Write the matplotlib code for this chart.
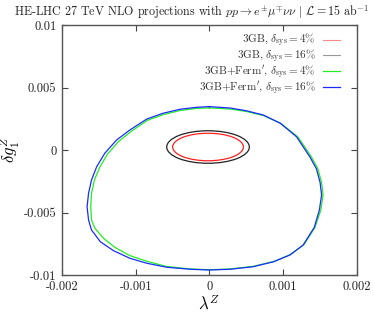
import matplotlib
matplotlib.use("Agg")
import matplotlib.pyplot as plt
from matplotlib.patches import Ellipse
from matplotlib.lines import Line2D

plt.rcParams["font.family"] = ["cmr10", "DejaVu Serif"]
plt.rcParams["mathtext.fontset"] = "cm"
plt.rcParams["axes.unicode_minus"] = False

# 3GB ellipses: centre (lambda, dg1), full width, full height
ell_center = (-0.00002, 0.00024)
ell_4_width, ell_4_height = 0.00096, 0.0022
ell_16_width, ell_16_height = 0.00112, 0.0026

# 3GB+Ferm' contours (closed loops, clockwise from top)
ferm16_lam = [0.0, 0.00028, 0.00050, 0.00073, 0.00096, 0.00118, 0.00136, 0.00145, 0.00150,
              0.00152, 0.00149, 0.00142, 0.00127, 0.00109, 0.00087, 0.00059, 0.00028, 0.0,
              -0.00026, -0.00058, -0.00085, -0.00108, -0.00130, -0.00148, -0.00160,
              -0.00164, -0.00166, -0.00164, -0.00160, -0.00153, -0.00142, -0.00126,
              -0.00108, -0.00085, -0.00063, -0.00040, -0.00017, 0.0]
ferm16_dg = [0.00347, 0.00336, 0.00314, 0.00280, 0.00214, 0.00106, -0.00054, -0.00150,
             -0.00260, -0.00360, -0.00480, -0.00620, -0.00760, -0.00840, -0.00894, -0.00934,
             -0.00954, -0.00960, -0.00954, -0.00938, -0.00906, -0.00866, -0.00806, -0.00734,
             -0.00640, -0.00560, -0.00454, -0.00346, -0.00240, -0.00134, -0.00026, 0.00080,
             0.00160, 0.00248, 0.00294, 0.00326, 0.00342, 0.00347]

ferm4_lam = [0.0, 0.00028, 0.00050, 0.00073, 0.00097, 0.00120, 0.00138, 0.00147, 0.00152,
             0.00154, 0.00151, 0.00143, 0.00128, 0.00110, 0.00088, 0.00060, 0.00028, 0.0,
             -0.00026, -0.00058, -0.00085, -0.00108, -0.00128, -0.00143, -0.00155,
             -0.00160, -0.00161, -0.00160, -0.00156, -0.00149, -0.00138, -0.00123,
             -0.00106, -0.00084, -0.00062, -0.00040, -0.00017, 0.0]
ferm4_dg = [0.00337, 0.00328, 0.00308, 0.00276, 0.00212, 0.00104, -0.00054, -0.00150,
            -0.00260, -0.00360, -0.00480, -0.00620, -0.00758, -0.00836, -0.00890, -0.00930,
            -0.00952, -0.00958, -0.00952, -0.00932, -0.00890, -0.00845, -0.00780, -0.00710,
            -0.00630, -0.00560, -0.00454, -0.00346, -0.00240, -0.00140, -0.00030, 0.00070,
            0.00150, 0.00238, 0.00284, 0.00316, 0.00333, 0.00337]

xticks = [-0.002, -0.001, 0, 0.001, 0.002]
xtick_labels = ["-0.002", "-0.001", "0", "0.001", "0.002"]
yticks = [-0.01, -0.005, 0, 0.005, 0.01]
ytick_labels = ["-0.01", "-0.005", "0", "0.005", "0.01"]

fig = plt.figure(figsize=(3.74, 3.13), dpi=100)
ax = fig.add_axes([0.1658, 0.1214, 0.7887, 0.7987])

ax.add_patch(Ellipse(ell_center, ell_16_width, ell_16_height, fill=False, color="#222222", lw=0.9))
ax.add_patch(Ellipse(ell_center, ell_4_width, ell_4_height, fill=False, color="#ff2020", lw=0.9))
ax.plot(ferm4_lam, ferm4_dg, color="#22ee22", lw=0.9, solid_joinstyle="round")
ax.plot(ferm16_lam, ferm16_dg, color="#1a2bff", lw=0.9, solid_joinstyle="round")

ax.set_xlim(-0.002, 0.002)
ax.set_ylim(-0.01, 0.01)
ax.set_xticks(xticks)
ax.set_xticklabels(xtick_labels)
ax.set_yticks(yticks)
ax.set_yticklabels(ytick_labels)
ax.tick_params(direction="in", top=True, right=True, length=4, width=0.8,
               labelsize=9, color="#444444", labelcolor="#222222", pad=4)
for s in ax.spines.values():
    s.set_color("#555555")
    s.set_linewidth(1.0)

ax.set_xlabel(r"$\lambda^Z$", fontsize=12, labelpad=1)
ax.set_ylabel(r"$\delta g_1^Z$", fontsize=12, labelpad=1)

fig.suptitle(r"HE-LHC 27 TeV NLO projections with $pp \to e^{\pm}\mu^{\mp}\nu\nu$ $|$ $\mathcal{L} = 15$ ab$^{-1}$",
             fontsize=8.65, x=0.512, y=0.99, color="#222222")

handles = [
    Line2D([], [], color="#ff8888", lw=0.8),
    Line2D([], [], color="#999999", lw=0.8),
    Line2D([], [], color="#22ee22", lw=0.9),
    Line2D([], [], color="#1a2bff", lw=0.9),
]
labels = [
    r"3GB, $\delta_{\rm sys} = 4\%$",
    r"3GB, $\delta_{\rm sys} = 16\%$",
    r"3GB+Ferm$'$, $\delta_{\rm sys} = 4\%$",
    r"3GB+Ferm$'$, $\delta_{\rm sys} = 16\%$",
]
leg = ax.legend(handles, labels, loc="upper right", bbox_to_anchor=(0.956, 0.99),
                frameon=False, markerfirst=False, fontsize=8, handlelength=1.45,
                labelspacing=-0.15, handletextpad=0.7, borderaxespad=0.0)
for t in leg.get_texts():
    t.set_color("#333333")

fig.savefig("out.png", dpi=100)
